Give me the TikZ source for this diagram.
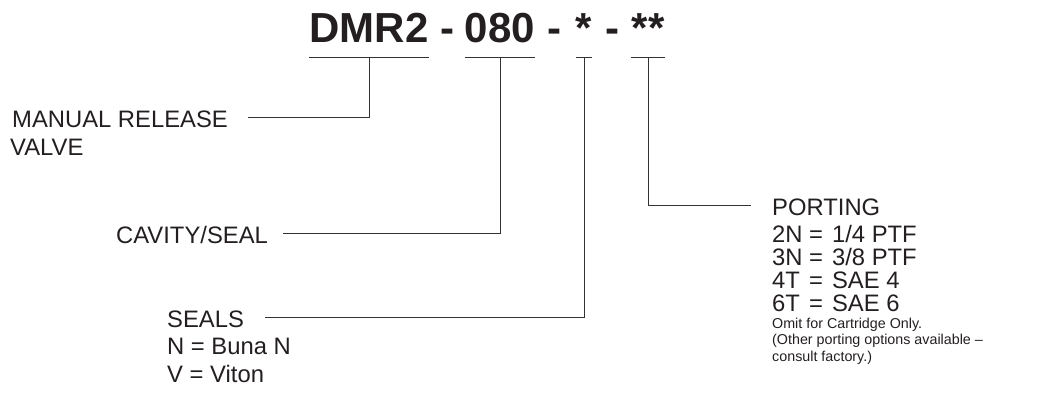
\documentclass[tikz,border=0pt]{standalone}
\usepackage{fontspec}
\setmainfont{Liberation Sans}
\usetikzlibrary{positioning}
\definecolor{ink}{HTML}{231F20}
\newcommand{\portrow}[2]{\makebox[37pt][l]{#1}=\hspace{9pt}#2}

\begin{document}
\begin{tikzpicture}
    [
        x=1pt, y=-1pt,
        title/.style = {font=\fontsize{42}{42}\selectfont\bfseries, text=ink, inner sep=0pt, text height=31pt, text depth=14pt, anchor=base},
        label/.style = {font=\fontsize{23.8}{28}\selectfont, text=ink, inner sep=0pt, text height=20pt, text depth=0pt, anchor=base west},
        block/.style = {font=\fontsize{23.8}{28}\selectfont, text=ink, inner sep=0pt, align=left, anchor=base west},
        note/.style = {font=\fontsize{14.3}{16.5}\selectfont, text=ink, inner sep=0pt, align=left, anchor=base west},
        lead/.style = {draw=black!80, line width=1pt},
    ]
    \useasboundingbox (0,0) rectangle (1051,404);

    % part number
    \node[title] (dmr)   at (369,43) {DMR2};
    \node[title] (dashA) at (447.5,43) {-};
    \node[title] (cav)   at (500,43) {080};
    \node[title] (dashB) at (554.5,43) {-};
    \node[title] (seal)  at (584,43) {*};
    \node[title] (dashC) at (612.5,43) {-};
    \node[title] (port)  at (648,43) {**};

    % labels (base of a block = its last line)
    \node[label] (manual)  at (12,127)  {MANUAL RELEASE};
    \node[block] (valve)   at (10,155)  {VALVE};
    \node[label] (cavity)  at (116,243) {CAVITY/SEAL};
    \node[label] (seals)   at (167,327) {SEALS};
    \node[block, font=\fontsize{23.8}{27.5}\selectfont] (sealopts) at (167,382) {N = Buna N\\V = Viton};
    \node[label] (porting) at (772,215) {PORTING};
    \node[block, font=\fontsize{23.8}{22.7}\selectfont] (portopts) at (772,311)
        {\portrow{2N}{1/4 PTF}\\\portrow{3N}{3/8 PTF}\\\portrow{4T}{SAE 4}\\\portrow{6T}{SAE 6}};
    \node[note] (portnote) at (772,361) {Omit for Cartridge Only.\\(Other porting options available –\\consult factory.)};

    % underlines and leaders
    \draw[lead] (dmr.south west) -- (dmr.south east);
    \draw[lead] (cav.south west) -- (cav.south east);
    \draw[lead] (seal.south west) -- (seal.south east);
    \draw[lead] (port.south west) -- (port.south east);

    \draw[lead] (dmr.south) |- ([xshift=20pt]manual.east);
    \draw[lead] (cav.south) |- ([xshift=15pt]cavity.east);
    \draw[lead] (seal.south) |- ([xshift=21pt]seals.east);
    \draw[lead] (port.south) |- ([xshift=-21pt]porting.west);
\end{tikzpicture}
\end{document}
